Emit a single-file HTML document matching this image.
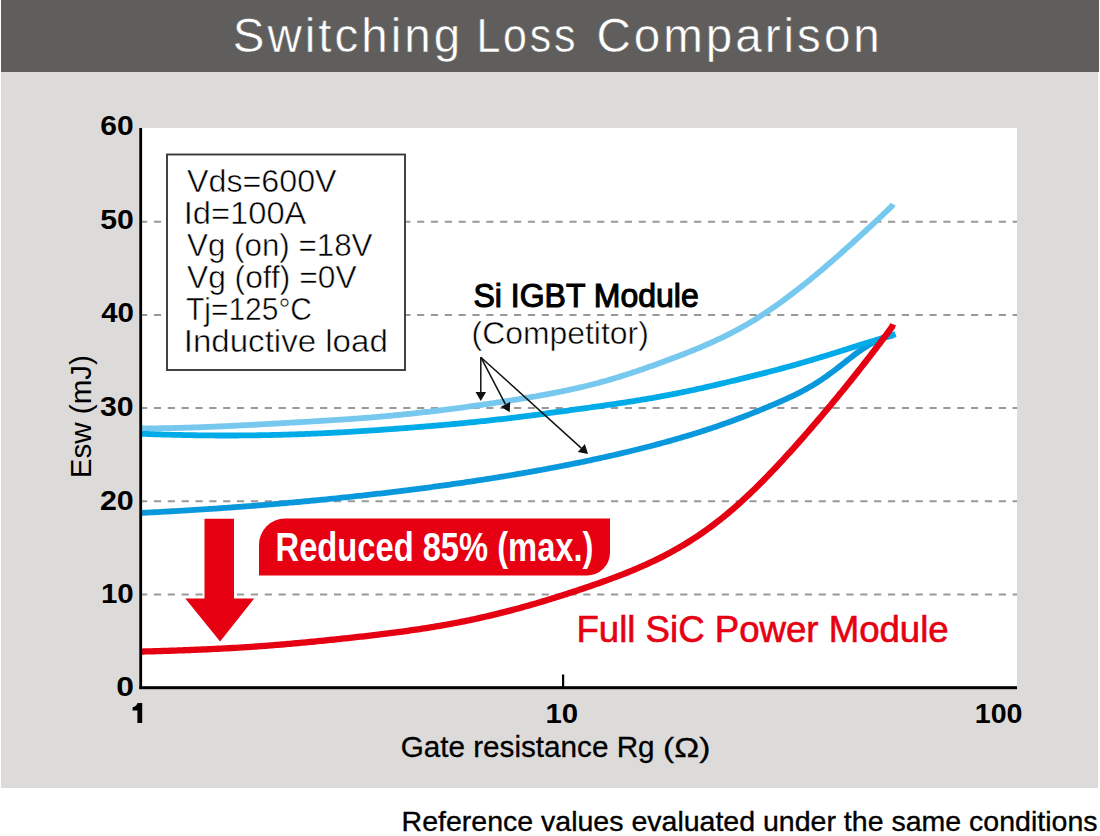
<!DOCTYPE html>
<html><head><meta charset="utf-8"><style>
html,body{margin:0;padding:0;background:#fff;}
body{width:1100px;height:836px;overflow:hidden;position:relative;}
#hdr{position:absolute;left:1px;top:0;width:1098px;height:72px;background:#5f5e5c;}
#panel{position:absolute;left:1px;top:72px;width:1097px;height:716px;background:#dcdbda;}
#plot{position:absolute;left:140px;top:128px;width:877px;height:560px;background:#fff;}
svg{position:absolute;left:0;top:0;}
</style></head><body>
<div id="hdr"></div><div id="panel"></div><div id="plot"></div>
<svg width="1100" height="836" viewBox="0 0 1100 836">
<line x1="140.05" y1="221.7" x2="1017" y2="221.7" stroke="#999" stroke-width="2" stroke-dasharray="7.2 6.65"/>
<line x1="140.05" y1="314.9" x2="1017" y2="314.9" stroke="#999" stroke-width="2" stroke-dasharray="7.2 6.65"/>
<line x1="140.05" y1="408.1" x2="1017" y2="408.1" stroke="#999" stroke-width="2" stroke-dasharray="7.2 6.65"/>
<line x1="140.05" y1="501.2" x2="1017" y2="501.2" stroke="#999" stroke-width="2" stroke-dasharray="7.2 6.65"/>
<line x1="140.05" y1="594.4" x2="1017" y2="594.4" stroke="#999" stroke-width="2" stroke-dasharray="7.2 6.65"/>
<rect x="167" y="154.5" width="238" height="215.5" fill="#fff" stroke="#3a3a3a" stroke-width="1.9"/>
<path d="M142.0,428.42 L144.0,428.41 L146.0,428.40 L148.0,428.39 L150.0,428.37 L152.0,428.35 L154.0,428.33 L156.0,428.31 L158.0,428.28 L160.0,428.25 L162.0,428.22 L164.0,428.19 L166.0,428.16 L168.0,428.12 L170.0,428.08 L172.0,428.04 L174.0,427.99 L176.0,427.95 L178.0,427.90 L180.0,427.85 L182.0,427.80 L184.0,427.74 L186.0,427.69 L188.0,427.63 L190.0,427.57 L192.0,427.51 L194.0,427.44 L196.0,427.37 L198.0,427.30 L200.0,427.23 L202.0,427.16 L204.0,427.09 L206.0,427.01 L208.0,426.93 L210.0,426.85 L212.0,426.77 L214.0,426.68 L216.0,426.60 L218.0,426.51 L220.0,426.42 L222.0,426.33 L224.0,426.24 L226.0,426.15 L228.0,426.05 L230.0,425.96 L232.0,425.86 L234.0,425.76 L236.0,425.67 L238.0,425.56 L240.0,425.46 L242.0,425.36 L244.0,425.26 L246.0,425.15 L248.0,425.05 L250.0,424.94 L252.0,424.84 L254.0,424.73 L256.0,424.62 L258.0,424.51 L260.0,424.40 L262.0,424.29 L264.0,424.18 L266.0,424.07 L268.0,423.96 L270.0,423.85 L272.0,423.74 L274.0,423.62 L276.0,423.51 L278.0,423.40 L280.0,423.29 L282.0,423.17 L284.0,423.06 L286.0,422.94 L288.0,422.83 L290.0,422.72 L292.0,422.60 L294.0,422.49 L296.0,422.37 L298.0,422.26 L300.0,422.14 L302.0,422.03 L304.0,421.91 L306.0,421.79 L308.0,421.68 L310.0,421.56 L312.0,421.44 L314.0,421.32 L316.0,421.21 L318.0,421.09 L320.0,420.97 L322.0,420.85 L324.0,420.73 L326.0,420.60 L328.0,420.48 L330.0,420.36 L332.0,420.23 L334.0,420.10 L336.0,419.98 L338.0,419.85 L340.0,419.72 L342.0,419.58 L344.0,419.45 L346.0,419.31 L348.0,419.18 L350.0,419.04 L352.0,418.89 L354.0,418.75 L356.0,418.60 L358.0,418.46 L360.0,418.31 L362.0,418.15 L364.0,418.00 L366.0,417.84 L368.0,417.68 L370.0,417.52 L372.0,417.35 L374.0,417.19 L376.0,417.02 L378.0,416.84 L380.0,416.67 L382.0,416.49 L384.0,416.31 L386.0,416.13 L388.0,415.95 L390.0,415.76 L392.0,415.57 L394.0,415.38 L396.0,415.19 L398.0,414.99 L400.0,414.79 L402.0,414.59 L404.0,414.39 L406.0,414.18 L408.0,413.97 L410.0,413.76 L412.0,413.55 L414.0,413.34 L416.0,413.12 L418.0,412.90 L420.0,412.68 L422.0,412.46 L424.0,412.23 L426.0,412.00 L428.0,411.77 L430.0,411.54 L432.0,411.31 L434.0,411.07 L436.0,410.83 L438.0,410.59 L440.0,410.35 L442.0,410.10 L444.0,409.85 L446.0,409.61 L448.0,409.35 L450.0,409.10 L452.0,408.85 L454.0,408.59 L456.0,408.33 L458.0,408.07 L460.0,407.80 L462.0,407.54 L464.0,407.27 L466.0,407.00 L468.0,406.73 L470.0,406.46 L472.0,406.18 L474.0,405.90 L476.0,405.62 L478.0,405.34 L480.0,405.06 L482.0,404.78 L484.0,404.49 L486.0,404.20 L488.0,403.91 L490.0,403.61 L492.0,403.32 L494.0,403.02 L496.0,402.72 L498.0,402.42 L500.0,402.12 L502.0,401.81 L504.0,401.50 L506.0,401.19 L508.0,400.88 L510.0,400.57 L512.0,400.25 L514.0,399.93 L516.0,399.61 L518.0,399.29 L520.0,398.96 L522.0,398.63 L524.0,398.30 L526.0,397.96 L528.0,397.63 L530.0,397.29 L532.0,396.94 L534.0,396.60 L536.0,396.25 L538.0,395.89 L540.0,395.54 L542.0,395.18 L544.0,394.81 L546.0,394.44 L548.0,394.07 L550.0,393.69 L552.0,393.31 L554.0,392.93 L556.0,392.54 L558.0,392.14 L560.0,391.74 L562.0,391.34 L564.0,390.93 L566.0,390.51 L568.0,390.09 L570.0,389.66 L572.0,389.23 L574.0,388.78 L576.0,388.34 L578.0,387.88 L580.0,387.42 L582.0,386.96 L584.0,386.48 L586.0,386.00 L588.0,385.51 L590.0,385.01 L592.0,384.51 L594.0,384.00 L596.0,383.48 L598.0,382.95 L600.0,382.41 L602.0,381.87 L604.0,381.31 L606.0,380.75 L608.0,380.18 L610.0,379.61 L612.0,379.02 L614.0,378.43 L616.0,377.83 L618.0,377.22 L620.0,376.61 L622.0,375.98 L624.0,375.35 L626.0,374.72 L628.0,374.07 L630.0,373.42 L632.0,372.77 L634.0,372.10 L636.0,371.44 L638.0,370.76 L640.0,370.08 L642.0,369.40 L644.0,368.71 L646.0,368.01 L648.0,367.31 L650.0,366.61 L652.0,365.90 L654.0,365.18 L656.0,364.46 L658.0,363.74 L660.0,363.02 L662.0,362.29 L664.0,361.55 L666.0,360.81 L668.0,360.07 L670.0,359.32 L672.0,358.57 L674.0,357.82 L676.0,357.06 L678.0,356.29 L680.0,355.52 L682.0,354.74 L684.0,353.96 L686.0,353.17 L688.0,352.38 L690.0,351.58 L692.0,350.77 L694.0,349.96 L696.0,349.14 L698.0,348.31 L700.0,347.47 L702.0,346.63 L704.0,345.77 L706.0,344.90 L708.0,344.03 L710.0,343.14 L712.0,342.25 L714.0,341.34 L716.0,340.42 L718.0,339.48 L720.0,338.54 L722.0,337.58 L724.0,336.61 L726.0,335.62 L728.0,334.62 L730.0,333.60 L732.0,332.57 L734.0,331.53 L736.0,330.46 L738.0,329.39 L740.0,328.29 L742.0,327.18 L744.0,326.05 L746.0,324.91 L748.0,323.75 L750.0,322.57 L752.0,321.37 L754.0,320.15 L756.0,318.92 L758.0,317.67 L760.0,316.41 L762.0,315.12 L764.0,313.82 L766.0,312.50 L768.0,311.17 L770.0,309.82 L772.0,308.45 L774.0,307.06 L776.0,305.66 L778.0,304.25 L780.0,302.81 L782.0,301.37 L784.0,299.90 L786.0,298.43 L788.0,296.94 L790.0,295.43 L792.0,293.91 L794.0,292.38 L796.0,290.83 L798.0,289.27 L800.0,287.70 L802.0,286.12 L804.0,284.52 L806.0,282.92 L808.0,281.30 L810.0,279.67 L812.0,278.03 L814.0,276.38 L816.0,274.71 L818.0,273.04 L820.0,271.36 L822.0,269.67 L824.0,267.97 L826.0,266.26 L828.0,264.54 L830.0,262.81 L832.0,261.07 L834.0,259.33 L836.0,257.58 L838.0,255.82 L840.0,254.05 L842.0,252.28 L844.0,250.50 L846.0,248.71 L848.0,246.92 L850.0,245.12 L852.0,243.31 L854.0,241.50 L856.0,239.68 L858.0,237.85 L860.0,236.02 L862.0,234.19 L864.0,232.35 L866.0,230.50 L868.0,228.65 L870.0,226.79 L872.0,224.93 L874.0,223.06 L876.0,221.19 L878.0,219.31 L880.0,217.43 L882.0,215.54 L884.0,213.64 L886.0,211.75 L888.0,209.84 L890.0,207.93 L892.0,206.02 L893.0,204.10" fill="none" stroke="#76c8ee" stroke-width="5.8"/>
<path d="M142.0,512.83 L144.0,512.74 L146.0,512.64 L148.0,512.54 L150.0,512.44 L152.0,512.34 L154.0,512.23 L156.0,512.13 L158.0,512.03 L160.0,511.92 L162.0,511.81 L164.0,511.71 L166.0,511.60 L168.0,511.49 L170.0,511.38 L172.0,511.26 L174.0,511.15 L176.0,511.04 L178.0,510.92 L180.0,510.80 L182.0,510.69 L184.0,510.57 L186.0,510.45 L188.0,510.33 L190.0,510.21 L192.0,510.08 L194.0,509.96 L196.0,509.83 L198.0,509.71 L200.0,509.58 L202.0,509.45 L204.0,509.32 L206.0,509.19 L208.0,509.06 L210.0,508.93 L212.0,508.80 L214.0,508.66 L216.0,508.52 L218.0,508.39 L220.0,508.25 L222.0,508.11 L224.0,507.97 L226.0,507.83 L228.0,507.69 L230.0,507.54 L232.0,507.40 L234.0,507.25 L236.0,507.11 L238.0,506.96 L240.0,506.81 L242.0,506.66 L244.0,506.51 L246.0,506.36 L248.0,506.20 L250.0,506.05 L252.0,505.89 L254.0,505.74 L256.0,505.58 L258.0,505.42 L260.0,505.26 L262.0,505.10 L264.0,504.93 L266.0,504.77 L268.0,504.61 L270.0,504.44 L272.0,504.27 L274.0,504.11 L276.0,503.94 L278.0,503.77 L280.0,503.60 L282.0,503.42 L284.0,503.25 L286.0,503.07 L288.0,502.90 L290.0,502.72 L292.0,502.54 L294.0,502.36 L296.0,502.18 L298.0,502.00 L300.0,501.82 L302.0,501.63 L304.0,501.45 L306.0,501.26 L308.0,501.07 L310.0,500.89 L312.0,500.70 L314.0,500.50 L316.0,500.31 L318.0,500.12 L320.0,499.92 L322.0,499.73 L324.0,499.53 L326.0,499.33 L328.0,499.13 L330.0,498.93 L332.0,498.73 L334.0,498.53 L336.0,498.32 L338.0,498.12 L340.0,497.91 L342.0,497.70 L344.0,497.49 L346.0,497.28 L348.0,497.07 L350.0,496.86 L352.0,496.64 L354.0,496.43 L356.0,496.21 L358.0,495.99 L360.0,495.77 L362.0,495.55 L364.0,495.33 L366.0,495.11 L368.0,494.89 L370.0,494.66 L372.0,494.43 L374.0,494.20 L376.0,493.98 L378.0,493.74 L380.0,493.51 L382.0,493.28 L384.0,493.04 L386.0,492.81 L388.0,492.57 L390.0,492.33 L392.0,492.09 L394.0,491.85 L396.0,491.61 L398.0,491.36 L400.0,491.12 L402.0,490.87 L404.0,490.62 L406.0,490.38 L408.0,490.12 L410.0,489.87 L412.0,489.62 L414.0,489.36 L416.0,489.11 L418.0,488.85 L420.0,488.59 L422.0,488.33 L424.0,488.07 L426.0,487.80 L428.0,487.54 L430.0,487.27 L432.0,487.00 L434.0,486.74 L436.0,486.46 L438.0,486.19 L440.0,485.92 L442.0,485.64 L444.0,485.37 L446.0,485.09 L448.0,484.81 L450.0,484.53 L452.0,484.24 L454.0,483.96 L456.0,483.67 L458.0,483.39 L460.0,483.10 L462.0,482.81 L464.0,482.51 L466.0,482.22 L468.0,481.92 L470.0,481.63 L472.0,481.33 L474.0,481.03 L476.0,480.72 L478.0,480.42 L480.0,480.12 L482.0,479.81 L484.0,479.50 L486.0,479.19 L488.0,478.88 L490.0,478.56 L492.0,478.25 L494.0,477.93 L496.0,477.61 L498.0,477.29 L500.0,476.96 L502.0,476.64 L504.0,476.31 L506.0,475.99 L508.0,475.65 L510.0,475.32 L512.0,474.99 L514.0,474.65 L516.0,474.31 L518.0,473.97 L520.0,473.63 L522.0,473.29 L524.0,472.94 L526.0,472.60 L528.0,472.25 L530.0,471.89 L532.0,471.54 L534.0,471.18 L536.0,470.83 L538.0,470.47 L540.0,470.10 L542.0,469.74 L544.0,469.37 L546.0,469.00 L548.0,468.63 L550.0,468.26 L552.0,467.89 L554.0,467.51 L556.0,467.13 L558.0,466.75 L560.0,466.36 L562.0,465.98 L564.0,465.59 L566.0,465.19 L568.0,464.80 L570.0,464.40 L572.0,464.01 L574.0,463.60 L576.0,463.20 L578.0,462.79 L580.0,462.39 L582.0,461.97 L584.0,461.56 L586.0,461.14 L588.0,460.72 L590.0,460.30 L592.0,459.88 L594.0,459.45 L596.0,459.02 L598.0,458.59 L600.0,458.15 L602.0,457.71 L604.0,457.27 L606.0,456.82 L608.0,456.38 L610.0,455.93 L612.0,455.47 L614.0,455.02 L616.0,454.56 L618.0,454.09 L620.0,453.63 L622.0,453.16 L624.0,452.68 L626.0,452.21 L628.0,451.73 L630.0,451.25 L632.0,450.76 L634.0,450.27 L636.0,449.78 L638.0,449.28 L640.0,448.78 L642.0,448.28 L644.0,447.77 L646.0,447.26 L648.0,446.75 L650.0,446.23 L652.0,445.71 L654.0,445.18 L656.0,444.66 L658.0,444.12 L660.0,443.59 L662.0,443.04 L664.0,442.50 L666.0,441.95 L668.0,441.40 L670.0,440.84 L672.0,440.28 L674.0,439.71 L676.0,439.14 L678.0,438.56 L680.0,437.98 L682.0,437.40 L684.0,436.81 L686.0,436.21 L688.0,435.62 L690.0,435.01 L692.0,434.40 L694.0,433.78 L696.0,433.16 L698.0,432.54 L700.0,431.91 L702.0,431.27 L704.0,430.62 L706.0,429.98 L708.0,429.32 L710.0,428.66 L712.0,427.99 L714.0,427.32 L716.0,426.64 L718.0,425.95 L720.0,425.26 L722.0,424.56 L724.0,423.86 L726.0,423.14 L728.0,422.43 L730.0,421.70 L732.0,420.97 L734.0,420.24 L736.0,419.49 L738.0,418.75 L740.0,417.99 L742.0,417.23 L744.0,416.47 L746.0,415.69 L748.0,414.92 L750.0,414.14 L752.0,413.35 L754.0,412.56 L756.0,411.76 L758.0,410.95 L760.0,410.15 L762.0,409.33 L764.0,408.51 L766.0,407.69 L768.0,406.86 L770.0,406.02 L772.0,405.18 L774.0,404.33 L776.0,403.47 L778.0,402.61 L780.0,401.73 L782.0,400.85 L784.0,399.96 L786.0,399.05 L788.0,398.14 L790.0,397.20 L792.0,396.26 L794.0,395.30 L796.0,394.32 L798.0,393.32 L800.0,392.30 L802.0,391.26 L804.0,390.19 L806.0,389.10 L808.0,387.98 L810.0,386.84 L812.0,385.66 L814.0,384.46 L816.0,383.23 L818.0,381.96 L820.0,380.66 L822.0,379.33 L824.0,377.97 L826.0,376.58 L828.0,375.15 L830.0,373.70 L832.0,372.22 L834.0,370.72 L836.0,369.20 L838.0,367.65 L840.0,366.10 L842.0,364.53 L844.0,362.96 L846.0,361.38 L848.0,359.81 L850.0,358.25 L852.0,356.70 L854.0,355.17 L856.0,353.67 L858.0,352.20 L860.0,350.77 L862.0,349.37 L864.0,348.02 L866.0,346.73 L868.0,345.48 L870.0,344.30 L872.0,343.17 L874.0,342.11 L876.0,341.12 L878.0,340.19 L880.0,339.33 L882.0,338.54 L884.0,337.82 L886.0,337.18 L888.0,336.60 L890.0,336.10 L892.0,335.67 L893.0,335.31" fill="none" stroke="#0a98dc" stroke-width="5.8"/>
<path d="M142.0,433.79 L144.0,433.87 L146.0,433.95 L148.0,434.02 L150.0,434.10 L152.0,434.17 L154.0,434.24 L156.0,434.30 L158.0,434.37 L160.0,434.43 L162.0,434.49 L164.0,434.55 L166.0,434.61 L168.0,434.67 L170.0,434.72 L172.0,434.78 L174.0,434.83 L176.0,434.88 L178.0,434.92 L180.0,434.97 L182.0,435.01 L184.0,435.06 L186.0,435.10 L188.0,435.14 L190.0,435.17 L192.0,435.21 L194.0,435.24 L196.0,435.27 L198.0,435.30 L200.0,435.33 L202.0,435.35 L204.0,435.38 L206.0,435.40 L208.0,435.42 L210.0,435.44 L212.0,435.45 L214.0,435.47 L216.0,435.48 L218.0,435.49 L220.0,435.50 L222.0,435.50 L224.0,435.51 L226.0,435.51 L228.0,435.51 L230.0,435.51 L232.0,435.51 L234.0,435.50 L236.0,435.49 L238.0,435.48 L240.0,435.47 L242.0,435.46 L244.0,435.44 L246.0,435.42 L248.0,435.40 L250.0,435.38 L252.0,435.36 L254.0,435.33 L256.0,435.30 L258.0,435.27 L260.0,435.24 L262.0,435.21 L264.0,435.17 L266.0,435.13 L268.0,435.09 L270.0,435.05 L272.0,435.00 L274.0,434.96 L276.0,434.91 L278.0,434.86 L280.0,434.80 L282.0,434.75 L284.0,434.69 L286.0,434.64 L288.0,434.58 L290.0,434.51 L292.0,434.45 L294.0,434.38 L296.0,434.32 L298.0,434.25 L300.0,434.18 L302.0,434.10 L304.0,434.03 L306.0,433.95 L308.0,433.87 L310.0,433.79 L312.0,433.71 L314.0,433.63 L316.0,433.54 L318.0,433.46 L320.0,433.37 L322.0,433.28 L324.0,433.18 L326.0,433.09 L328.0,433.00 L330.0,432.90 L332.0,432.80 L334.0,432.70 L336.0,432.60 L338.0,432.49 L340.0,432.38 L342.0,432.28 L344.0,432.17 L346.0,432.05 L348.0,431.94 L350.0,431.83 L352.0,431.71 L354.0,431.59 L356.0,431.47 L358.0,431.35 L360.0,431.22 L362.0,431.10 L364.0,430.97 L366.0,430.84 L368.0,430.71 L370.0,430.58 L372.0,430.44 L374.0,430.31 L376.0,430.17 L378.0,430.04 L380.0,429.90 L382.0,429.76 L384.0,429.62 L386.0,429.47 L388.0,429.33 L390.0,429.19 L392.0,429.04 L394.0,428.89 L396.0,428.75 L398.0,428.60 L400.0,428.45 L402.0,428.30 L404.0,428.15 L406.0,428.00 L408.0,427.84 L410.0,427.69 L412.0,427.53 L414.0,427.38 L416.0,427.22 L418.0,427.06 L420.0,426.90 L422.0,426.74 L424.0,426.58 L426.0,426.42 L428.0,426.25 L430.0,426.09 L432.0,425.92 L434.0,425.75 L436.0,425.58 L438.0,425.41 L440.0,425.24 L442.0,425.07 L444.0,424.89 L446.0,424.71 L448.0,424.53 L450.0,424.36 L452.0,424.17 L454.0,423.99 L456.0,423.81 L458.0,423.62 L460.0,423.43 L462.0,423.24 L464.0,423.05 L466.0,422.85 L468.0,422.66 L470.0,422.46 L472.0,422.26 L474.0,422.06 L476.0,421.85 L478.0,421.65 L480.0,421.44 L482.0,421.23 L484.0,421.02 L486.0,420.80 L488.0,420.59 L490.0,420.37 L492.0,420.15 L494.0,419.93 L496.0,419.70 L498.0,419.48 L500.0,419.25 L502.0,419.02 L504.0,418.78 L506.0,418.55 L508.0,418.31 L510.0,418.08 L512.0,417.84 L514.0,417.59 L516.0,417.35 L518.0,417.10 L520.0,416.86 L522.0,416.61 L524.0,416.36 L526.0,416.10 L528.0,415.85 L530.0,415.59 L532.0,415.34 L534.0,415.08 L536.0,414.82 L538.0,414.56 L540.0,414.30 L542.0,414.03 L544.0,413.77 L546.0,413.50 L548.0,413.24 L550.0,412.97 L552.0,412.70 L554.0,412.43 L556.0,412.16 L558.0,411.89 L560.0,411.62 L562.0,411.35 L564.0,411.07 L566.0,410.80 L568.0,410.53 L570.0,410.25 L572.0,409.98 L574.0,409.71 L576.0,409.43 L578.0,409.16 L580.0,408.88 L582.0,408.61 L584.0,408.33 L586.0,408.05 L588.0,407.78 L590.0,407.50 L592.0,407.22 L594.0,406.94 L596.0,406.66 L598.0,406.38 L600.0,406.09 L602.0,405.81 L604.0,405.53 L606.0,405.24 L608.0,404.95 L610.0,404.66 L612.0,404.37 L614.0,404.08 L616.0,403.78 L618.0,403.49 L620.0,403.19 L622.0,402.89 L624.0,402.58 L626.0,402.28 L628.0,401.97 L630.0,401.65 L632.0,401.34 L634.0,401.02 L636.0,400.70 L638.0,400.38 L640.0,400.05 L642.0,399.72 L644.0,399.39 L646.0,399.05 L648.0,398.71 L650.0,398.36 L652.0,398.02 L654.0,397.66 L656.0,397.31 L658.0,396.95 L660.0,396.59 L662.0,396.22 L664.0,395.85 L666.0,395.47 L668.0,395.09 L670.0,394.71 L672.0,394.32 L674.0,393.93 L676.0,393.54 L678.0,393.14 L680.0,392.74 L682.0,392.33 L684.0,391.92 L686.0,391.50 L688.0,391.08 L690.0,390.66 L692.0,390.24 L694.0,389.80 L696.0,389.37 L698.0,388.93 L700.0,388.49 L702.0,388.05 L704.0,387.60 L706.0,387.15 L708.0,386.70 L710.0,386.24 L712.0,385.78 L714.0,385.32 L716.0,384.85 L718.0,384.38 L720.0,383.91 L722.0,383.44 L724.0,382.97 L726.0,382.49 L728.0,382.01 L730.0,381.53 L732.0,381.05 L734.0,380.56 L736.0,380.08 L738.0,379.59 L740.0,379.10 L742.0,378.61 L744.0,378.12 L746.0,377.62 L748.0,377.13 L750.0,376.63 L752.0,376.13 L754.0,375.63 L756.0,375.13 L758.0,374.62 L760.0,374.11 L762.0,373.61 L764.0,373.09 L766.0,372.58 L768.0,372.06 L770.0,371.55 L772.0,371.03 L774.0,370.50 L776.0,369.97 L778.0,369.44 L780.0,368.91 L782.0,368.38 L784.0,367.84 L786.0,367.29 L788.0,366.75 L790.0,366.20 L792.0,365.64 L794.0,365.09 L796.0,364.53 L798.0,363.96 L800.0,363.39 L802.0,362.82 L804.0,362.24 L806.0,361.66 L808.0,361.08 L810.0,360.49 L812.0,359.90 L814.0,359.30 L816.0,358.71 L818.0,358.10 L820.0,357.50 L822.0,356.89 L824.0,356.28 L826.0,355.66 L828.0,355.04 L830.0,354.42 L832.0,353.80 L834.0,353.18 L836.0,352.55 L838.0,351.92 L840.0,351.29 L842.0,350.66 L844.0,350.03 L846.0,349.40 L848.0,348.77 L850.0,348.14 L852.0,347.51 L854.0,346.88 L856.0,346.25 L858.0,345.62 L860.0,344.99 L862.0,344.37 L864.0,343.74 L866.0,343.12 L868.0,342.50 L870.0,341.88 L872.0,341.27 L874.0,340.65 L876.0,340.04 L878.0,339.43 L880.0,338.82 L882.0,338.22 L884.0,337.61 L886.0,337.01 L888.0,336.42 L890.0,335.82 L892.0,335.23 L894.0,334.64 L895.5,334.05" fill="none" stroke="#00abe8" stroke-width="5.8"/>
<path d="M142.0,651.58 L144.0,651.52 L146.0,651.47 L148.0,651.42 L150.0,651.36 L152.0,651.30 L154.0,651.25 L156.0,651.19 L158.0,651.13 L160.0,651.07 L162.0,651.00 L164.0,650.94 L166.0,650.88 L168.0,650.81 L170.0,650.74 L172.0,650.68 L174.0,650.61 L176.0,650.54 L178.0,650.47 L180.0,650.39 L182.0,650.32 L184.0,650.24 L186.0,650.17 L188.0,650.09 L190.0,650.01 L192.0,649.93 L194.0,649.85 L196.0,649.77 L198.0,649.69 L200.0,649.60 L202.0,649.51 L204.0,649.43 L206.0,649.34 L208.0,649.25 L210.0,649.15 L212.0,649.06 L214.0,648.96 L216.0,648.87 L218.0,648.77 L220.0,648.67 L222.0,648.56 L224.0,648.46 L226.0,648.35 L228.0,648.24 L230.0,648.13 L232.0,648.02 L234.0,647.91 L236.0,647.79 L238.0,647.67 L240.0,647.55 L242.0,647.43 L244.0,647.30 L246.0,647.17 L248.0,647.04 L250.0,646.91 L252.0,646.78 L254.0,646.64 L256.0,646.50 L258.0,646.36 L260.0,646.22 L262.0,646.07 L264.0,645.92 L266.0,645.77 L268.0,645.62 L270.0,645.46 L272.0,645.30 L274.0,645.15 L276.0,644.98 L278.0,644.82 L280.0,644.65 L282.0,644.49 L284.0,644.32 L286.0,644.14 L288.0,643.97 L290.0,643.79 L292.0,643.62 L294.0,643.44 L296.0,643.26 L298.0,643.07 L300.0,642.89 L302.0,642.70 L304.0,642.52 L306.0,642.33 L308.0,642.14 L310.0,641.95 L312.0,641.75 L314.0,641.56 L316.0,641.36 L318.0,641.17 L320.0,640.97 L322.0,640.77 L324.0,640.57 L326.0,640.36 L328.0,640.16 L330.0,639.96 L332.0,639.75 L334.0,639.54 L336.0,639.33 L338.0,639.12 L340.0,638.91 L342.0,638.70 L344.0,638.49 L346.0,638.27 L348.0,638.06 L350.0,637.84 L352.0,637.62 L354.0,637.40 L356.0,637.18 L358.0,636.96 L360.0,636.73 L362.0,636.51 L364.0,636.28 L366.0,636.05 L368.0,635.82 L370.0,635.59 L372.0,635.36 L374.0,635.12 L376.0,634.88 L378.0,634.64 L380.0,634.40 L382.0,634.16 L384.0,633.91 L386.0,633.67 L388.0,633.42 L390.0,633.16 L392.0,632.91 L394.0,632.65 L396.0,632.39 L398.0,632.13 L400.0,631.86 L402.0,631.59 L404.0,631.32 L406.0,631.04 L408.0,630.77 L410.0,630.48 L412.0,630.20 L414.0,629.91 L416.0,629.62 L418.0,629.32 L420.0,629.02 L422.0,628.72 L424.0,628.41 L426.0,628.09 L428.0,627.78 L430.0,627.46 L432.0,627.13 L434.0,626.80 L436.0,626.47 L438.0,626.13 L440.0,625.79 L442.0,625.44 L444.0,625.09 L446.0,624.73 L448.0,624.37 L450.0,624.00 L452.0,623.63 L454.0,623.25 L456.0,622.87 L458.0,622.48 L460.0,622.09 L462.0,621.69 L464.0,621.29 L466.0,620.89 L468.0,620.47 L470.0,620.06 L472.0,619.63 L474.0,619.21 L476.0,618.77 L478.0,618.33 L480.0,617.89 L482.0,617.44 L484.0,616.99 L486.0,616.53 L488.0,616.07 L490.0,615.60 L492.0,615.12 L494.0,614.64 L496.0,614.16 L498.0,613.67 L500.0,613.17 L502.0,612.67 L504.0,612.17 L506.0,611.66 L508.0,611.14 L510.0,610.62 L512.0,610.09 L514.0,609.56 L516.0,609.03 L518.0,608.49 L520.0,607.94 L522.0,607.39 L524.0,606.83 L526.0,606.27 L528.0,605.71 L530.0,605.14 L532.0,604.57 L534.0,603.99 L536.0,603.40 L538.0,602.81 L540.0,602.22 L542.0,601.63 L544.0,601.02 L546.0,600.42 L548.0,599.81 L550.0,599.20 L552.0,598.58 L554.0,597.96 L556.0,597.33 L558.0,596.71 L560.0,596.08 L562.0,595.44 L564.0,594.80 L566.0,594.16 L568.0,593.52 L570.0,592.87 L572.0,592.22 L574.0,591.56 L576.0,590.90 L578.0,590.24 L580.0,589.58 L582.0,588.91 L584.0,588.24 L586.0,587.57 L588.0,586.89 L590.0,586.21 L592.0,585.52 L594.0,584.83 L596.0,584.14 L598.0,583.44 L600.0,582.74 L602.0,582.03 L604.0,581.31 L606.0,580.59 L608.0,579.87 L610.0,579.14 L612.0,578.40 L614.0,577.65 L616.0,576.90 L618.0,576.14 L620.0,575.37 L622.0,574.60 L624.0,573.82 L626.0,573.02 L628.0,572.22 L630.0,571.41 L632.0,570.59 L634.0,569.76 L636.0,568.92 L638.0,568.06 L640.0,567.20 L642.0,566.33 L644.0,565.44 L646.0,564.54 L648.0,563.63 L650.0,562.70 L652.0,561.76 L654.0,560.81 L656.0,559.84 L658.0,558.86 L660.0,557.86 L662.0,556.85 L664.0,555.83 L666.0,554.79 L668.0,553.73 L670.0,552.66 L672.0,551.57 L674.0,550.46 L676.0,549.34 L678.0,548.19 L680.0,547.04 L682.0,545.86 L684.0,544.67 L686.0,543.45 L688.0,542.22 L690.0,540.97 L692.0,539.70 L694.0,538.41 L696.0,537.10 L698.0,535.77 L700.0,534.42 L702.0,533.05 L704.0,531.65 L706.0,530.24 L708.0,528.80 L710.0,527.34 L712.0,525.86 L714.0,524.36 L716.0,522.84 L718.0,521.29 L720.0,519.72 L722.0,518.12 L724.0,516.51 L726.0,514.87 L728.0,513.21 L730.0,511.53 L732.0,509.82 L734.0,508.09 L736.0,506.34 L738.0,504.57 L740.0,502.78 L742.0,500.96 L744.0,499.12 L746.0,497.27 L748.0,495.39 L750.0,493.49 L752.0,491.58 L754.0,489.64 L756.0,487.69 L758.0,485.71 L760.0,483.72 L762.0,481.71 L764.0,479.69 L766.0,477.65 L768.0,475.59 L770.0,473.52 L772.0,471.43 L774.0,469.32 L776.0,467.21 L778.0,465.07 L780.0,462.93 L782.0,460.77 L784.0,458.60 L786.0,456.42 L788.0,454.23 L790.0,452.02 L792.0,449.81 L794.0,447.58 L796.0,445.34 L798.0,443.10 L800.0,440.84 L802.0,438.58 L804.0,436.30 L806.0,434.02 L808.0,431.73 L810.0,429.42 L812.0,427.11 L814.0,424.80 L816.0,422.47 L818.0,420.13 L820.0,417.79 L822.0,415.43 L824.0,413.07 L826.0,410.69 L828.0,408.31 L830.0,405.92 L832.0,403.52 L834.0,401.11 L836.0,398.69 L838.0,396.26 L840.0,393.83 L842.0,391.38 L844.0,388.92 L846.0,386.45 L848.0,383.98 L850.0,381.49 L852.0,378.99 L854.0,376.48 L856.0,373.97 L858.0,371.44 L860.0,368.90 L862.0,366.36 L864.0,363.80 L866.0,361.24 L868.0,358.66 L870.0,356.07 L872.0,353.48 L874.0,350.87 L876.0,348.26 L878.0,345.63 L880.0,343.00 L882.0,340.35 L884.0,337.70 L886.0,335.04 L888.0,332.36 L890.0,329.68 L892.0,326.99 L893.0,324.28" fill="none" stroke="#e50012" stroke-width="6.3"/>
<rect x="139.3" y="128" width="2.8" height="561" fill="#000"/>
<rect x="139.3" y="686.2" width="877.7" height="3" fill="#000"/>
<rect x="562" y="674.5" width="2.2" height="13" fill="#000"/>
<line x1="480.8" y1="357.2" x2="480.8" y2="392.0" stroke="#111" stroke-width="1.5"/><polygon points="480.8,401 475.5,392.0 486.1,392.0" fill="#111"/>
<line x1="480.8" y1="357.2" x2="505.5" y2="404.3" stroke="#111" stroke-width="1.5"/><polygon points="509.7,412.3 500.8,406.8 510.2,401.9" fill="#111"/>
<line x1="480.8" y1="357.2" x2="581.3" y2="448.1" stroke="#111" stroke-width="1.5"/><polygon points="588,454.1 577.8,452.0 584.9,444.1" fill="#111"/>
<polygon points="204.5,518.8 234,518.8 234,598.6 254.2,598.6 220.1,641.6 185.3,598.6 204.5,598.6" fill="#e60012"/>
<path d="M259,575.6 L259,544.6 A26,26 0 0 1 285,518.6 L610,518.6 L610,552.6 A23,23 0 0 1 587,575.6 Z" fill="#e60012"/>
<path d="M137.6,703 L142.2,703 L142.2,722.9 L137.4,722.9 L137.4,710.6 L132.6,710.6 L132.6,707.2 Q136,707 137.6,703 Z" fill="#000"/>
<text transform="translate(232.80,52) scale(1.0000,1)" x="0" y="0" font-family="Liberation Sans, sans-serif" font-size="47.5" font-weight="normal" fill="#fff" letter-spacing="3"  stroke="#5f5e5c" stroke-width="0.5">Switching</text>
<text transform="translate(476.48,52) scale(0.9048,1)" x="0" y="0" font-family="Liberation Sans, sans-serif" font-size="47.5" font-weight="normal" fill="#fff" letter-spacing="3"  stroke="#5f5e5c" stroke-width="0.5">Loss</text>
<text transform="translate(596.40,52) scale(1.0014,1)" x="0" y="0" font-family="Liberation Sans, sans-serif" font-size="47.5" font-weight="normal" fill="#fff" letter-spacing="3"  stroke="#5f5e5c" stroke-width="0.5">Comparison</text>
<text transform="translate(100.23,135) scale(1.0724,1)" x="0" y="0" font-family="Liberation Sans, sans-serif" font-size="28" font-weight="bold" fill="#000" >60</text>
<text transform="translate(100.22,228.8) scale(1.0793,1)" x="0" y="0" font-family="Liberation Sans, sans-serif" font-size="28" font-weight="bold" fill="#000" >50</text>
<text transform="translate(101.20,321.8) scale(1.0533,1)" x="0" y="0" font-family="Liberation Sans, sans-serif" font-size="28" font-weight="bold" fill="#000" >40</text>
<text transform="translate(99.92,415.5) scale(1.0793,1)" x="0" y="0" font-family="Liberation Sans, sans-serif" font-size="28" font-weight="bold" fill="#000" >30</text>
<text transform="translate(99.91,509.5) scale(1.0862,1)" x="0" y="0" font-family="Liberation Sans, sans-serif" font-size="28" font-weight="bold" fill="#000" >20</text>
<text transform="translate(100.89,602.6) scale(1.0536,1)" x="0" y="0" font-family="Liberation Sans, sans-serif" font-size="28" font-weight="bold" fill="#000" >10</text>
<text transform="translate(116.26,696.2) scale(1.1357,1)" x="0" y="0" font-family="Liberation Sans, sans-serif" font-size="28" font-weight="bold" fill="#000" >0</text>
<text transform="translate(545.50,722.7) scale(1.0500,1)" x="0" y="0" font-family="Liberation Sans, sans-serif" font-size="28" font-weight="bold" fill="#000" >10</text>
<text transform="translate(974.75,722.7) scale(1.0227,1)" x="0" y="0" font-family="Liberation Sans, sans-serif" font-size="28" font-weight="bold" fill="#000" >100</text>
<text transform="translate(400.68,757.2) scale(1.0233,1)" x="0" y="0" font-family="Liberation Sans, sans-serif" font-size="29" font-weight="normal" fill="#000"  stroke="#000" stroke-width="0.3">Gate resistance Rg</text>
<text transform="translate(663.11,757.2) scale(1.1944,1)" x="0" y="0" font-family="Liberation Sans, sans-serif" font-size="28" font-weight="normal" fill="#000"  stroke="#000" stroke-width="0.3">(Ω)</text>
<text transform="translate(187.00,191.6) scale(1.0567,1)" x="0" y="0" font-family="Liberation Sans, sans-serif" font-size="30.5" font-weight="normal" fill="#000"  stroke="#fff" stroke-width="0.5">Vds=600V</text>
<text transform="translate(183.79,223.6) scale(1.0714,1)" x="0" y="0" font-family="Liberation Sans, sans-serif" font-size="30.5" font-weight="normal" fill="#000"  stroke="#fff" stroke-width="0.5">Id=100A</text>
<text transform="translate(187.00,255.6) scale(1.0278,1)" x="0" y="0" font-family="Liberation Sans, sans-serif" font-size="30.5" font-weight="normal" fill="#000"  stroke="#fff" stroke-width="0.5">Vg (on) =18V</text>
<text transform="translate(187.00,287.6) scale(1.0405,1)" x="0" y="0" font-family="Liberation Sans, sans-serif" font-size="30.5" font-weight="normal" fill="#000"  stroke="#fff" stroke-width="0.5">Vg (off) =0V</text>
<text transform="translate(186.02,319.6) scale(0.9817,1)" x="0" y="0" font-family="Liberation Sans, sans-serif" font-size="30.5" font-weight="normal" fill="#000"  stroke="#fff" stroke-width="0.5">Tj=125°C</text>
<text transform="translate(183.75,351.6) scale(1.0847,1)" x="0" y="0" font-family="Liberation Sans, sans-serif" font-size="30.5" font-weight="normal" fill="#000"  stroke="#fff" stroke-width="0.5">Inductive load</text>
<text transform="translate(473.46,307) scale(0.9699,1)" x="0" y="0" font-family="Liberation Sans, sans-serif" font-size="33" font-weight="normal" fill="#000"  stroke="#000" stroke-width="1.1">Si IGBT Module</text>
<text transform="translate(471.61,344.3) scale(1.0458,1)" x="0" y="0" font-family="Liberation Sans, sans-serif" font-size="30.5" font-weight="normal" fill="#000"  stroke="#fff" stroke-width="0.5">(Competitor)</text>
<text transform="translate(275.55,560.8) scale(0.8177,1)" x="0" y="0" font-family="Liberation Sans, sans-serif" font-size="40" font-weight="bold" fill="#fff" >Reduced 85% (max.)</text>
<text transform="translate(576.48,641.7) scale(1.0055,1)" x="0" y="0" font-family="Liberation Sans, sans-serif" font-size="36.4" font-weight="normal" fill="#e50012"  stroke="#e50012" stroke-width="0.6">Full SiC Power Module</text>
<text transform="translate(401.55,831.2) scale(1.0262,1)" x="0" y="0" font-family="Liberation Sans, sans-serif" font-size="27.8" font-weight="normal" fill="#000"  stroke="#000" stroke-width="0.35">Reference values evaluated under the same conditions</text>
<text transform="translate(90.5,478.14) rotate(-90) scale(1.0179,1)" x="0" y="0" font-family="Liberation Sans, sans-serif" font-size="29" font-weight="normal" fill="#000" >Esw (mJ)</text>
</svg>
</body></html>
